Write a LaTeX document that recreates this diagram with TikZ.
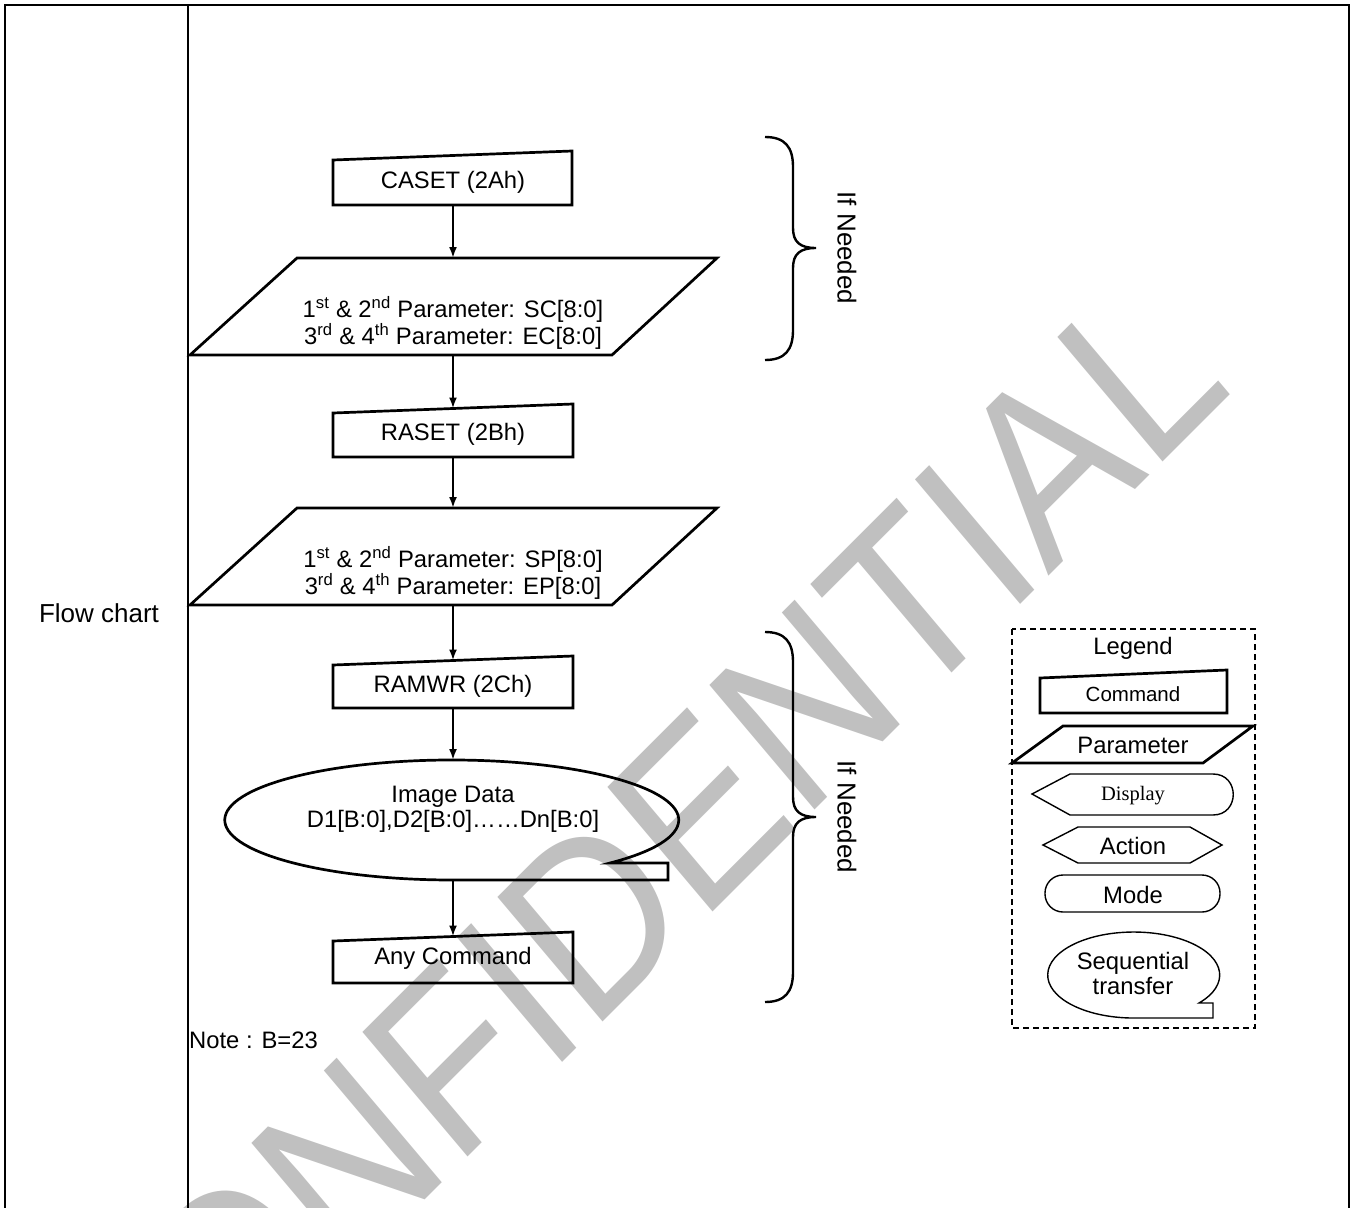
\documentclass[tikz,border=0pt]{standalone}
\usepackage{fontspec}
\setmainfont{Liberation Sans}
\newfontfamily\serifdisp{Liberation Serif}
\usetikzlibrary{arrows.meta}
\definecolor{wm}{RGB}{192,192,192}
\begin{document}
\begin{tikzpicture}[x=1pt,y=1pt,
  box/.style={line width=2.7pt, line join=miter},
  thinshape/.style={line width=1.4pt, line join=miter},
  conn/.style={line width=2pt,-{Latex[length=11pt,width=8pt]}},
  txt/.style={inner sep=0pt, font=\fontsize{23.8}{25}\selectfont, align=center},
  bigtxt/.style={inner sep=0pt, font=\fontsize{26}{28}\selectfont, align=center},
  brace/.style={line width=2.4pt},
  lgsmall/.style={inner sep=0pt, font=\fontsize{20.5}{22}\selectfont}]
\clip (0,0) rectangle (1354,-1207);
% watermark
\begin{scope}[cm={0.644,0.644,-0.645,0.764,(115.8,-1509.2)}]
\node[transform shape, anchor=base west, inner sep=0pt, text=wm,
      font=\fontsize{237}{240}\selectfont] (wmark) at (0,0) {CONFIDENTIAL};
\end{scope}
% table
\draw[line width=2.7pt] (5,-1212) -- (5,-5) -- (1349,-5) -- (1349,-1212);
\draw[line width=2.5pt] (188,-5) -- (188,-1212);
\node[bigtxt] (fc) at (99,-613) {Flow chart};
% CASET
\draw[box] (333,-160) -- (572,-151) -- (572,-205) -- (333,-205) -- cycle;
\node[txt] (caset) at (453,-182) {CASET (2Ah)};
\coordinate (casetB) at (453,-205);
% parameter 1
\draw[box] (297,-258) -- (717,-258) -- (612,-355) -- (190,-355) -- cycle;
\node[txt] (p1) at (453,-323) {1\textsuperscript{st} \& 2\textsuperscript{nd} Parameter: SC[8:0]\\3\textsuperscript{rd} \& 4\textsuperscript{th} Parameter: EC[8:0]};
\coordinate (p1T) at (453,-258);
\coordinate (p1B) at (453,-355);
% RASET
\draw[box] (333,-413) -- (573,-404) -- (573,-457) -- (333,-457) -- cycle;
\node[txt] (raset) at (453,-434) {RASET (2Bh)};
\coordinate (rasetT) at (453,-408.5);
\coordinate (rasetB) at (453,-457);
% parameter 2
\draw[box] (297,-508) -- (717,-508) -- (612,-605) -- (190,-605) -- cycle;
\node[txt] (p2) at (453,-573) {1\textsuperscript{st} \& 2\textsuperscript{nd} Parameter: SP[8:0]\\3\textsuperscript{rd} \& 4\textsuperscript{th} Parameter: EP[8:0]};
\coordinate (p2T) at (453,-508);
\coordinate (p2B) at (453,-605);
% RAMWR
\draw[box] (333,-665) -- (573,-656) -- (573,-708) -- (333,-708) -- cycle;
\node[txt] (ramwr) at (453,-686) {RAMWR (2Ch)};
\coordinate (ramwrT) at (453,-660.5);
\coordinate (ramwrB) at (453,-708);
% image data
\draw[box] (610,-863) arc[start angle=-45.8, end angle=270, x radius=227, y radius=60]
   -- (668,-880) -- (668,-863) -- cycle;
\node[txt] (img) at (453,-809.5) {Image Data\\D1[B:0],D2[B:0]……Dn[B:0]};
\coordinate (imgT) at (453,-760);
\coordinate (imgB) at (453,-880);
% any command
\draw[box] (333,-941) -- (573,-932) -- (573,-983) -- (333,-983) -- cycle;
\node[txt] (any) at (453,-958) {Any Command};
\coordinate (anyT) at (453,-936.5);
% connectors
\draw[conn] (casetB) -- (p1T);
\draw[conn] (p1B) -- (rasetT);
\draw[conn] (rasetB) -- (p2T);
\draw[conn] (p2B) -- (ramwrT);
\draw[conn] (ramwrB) -- (imgT);
\draw[conn] (imgB) -- (anyT);
% note
\node[txt, anchor=west] (note) at (189,-1040) {Note : B=23};
% braces
\draw[brace] (765,-137) .. controls (785,-137) and (793,-147) .. (793,-167) -- (793,-228)
  .. controls (793,-242) and (800,-248) .. (816,-248)
  .. controls (800,-248) and (793,-254) .. (793,-268) -- (793,-330)
  .. controls (793,-350) and (785,-360) .. (765,-360);
\node[bigtxt, rotate=-90] (if1) at (847,-248) {If Needed};
\draw[brace] (765,-632) .. controls (785,-632) and (793,-642) .. (793,-662) -- (793,-797)
  .. controls (793,-811) and (800,-817) .. (816,-817)
  .. controls (800,-817) and (793,-823) .. (793,-837) -- (793,-972)
  .. controls (793,-992) and (785,-1002) .. (765,-1002);
\node[bigtxt, rotate=-90] (if2) at (847,-817) {If Needed};
% legend
\draw[line width=1.3pt, dash pattern=on 6pt off 4pt] (1012,-629) rectangle (1255,-1028);
\node[txt] (lg) at (1133,-648) {Legend};
\draw[box] (1040,-678) -- (1227,-670) -- (1227,-713) -- (1040,-713) -- cycle;
\node[lgsmall] (lgcmd) at (1133,-694) {Command};
\draw[box] (1063,-726) -- (1253,-726) -- (1203,-763) -- (1012,-763) -- cycle;
\node[txt] (lgpar) at (1133,-745) {Parameter};
\draw[thinshape] (1032,-794) -- (1070,-774) -- (1213,-774)
  .. controls (1240,-774) and (1240,-815) .. (1213,-815) -- (1070,-815) -- cycle;
\node[inner sep=0pt, font=\serifdisp\fontsize{20.5}{22}\selectfont] (lgdisp) at (1133,-796) {Display};
\draw[thinshape] (1043,-845) -- (1078,-827) -- (1190,-827) -- (1222,-845) -- (1190,-863) -- (1078,-863) -- cycle;
\node[txt] (lgact) at (1133,-846) {Action};
\draw[thinshape, rounded corners=18pt] (1045,-875) rectangle (1220,-912);
\node[txt] (lgmode) at (1133,-895) {Mode};
\draw[thinshape] (1199,-1003) arc[start angle=-40.6, end angle=270, x radius=86, y radius=43]
   -- (1213,-1018) -- (1213,-1003) -- cycle;
\node[txt] (lgseq) at (1133,-973) {Sequential\\transfer};
\end{tikzpicture}
\end{document}
